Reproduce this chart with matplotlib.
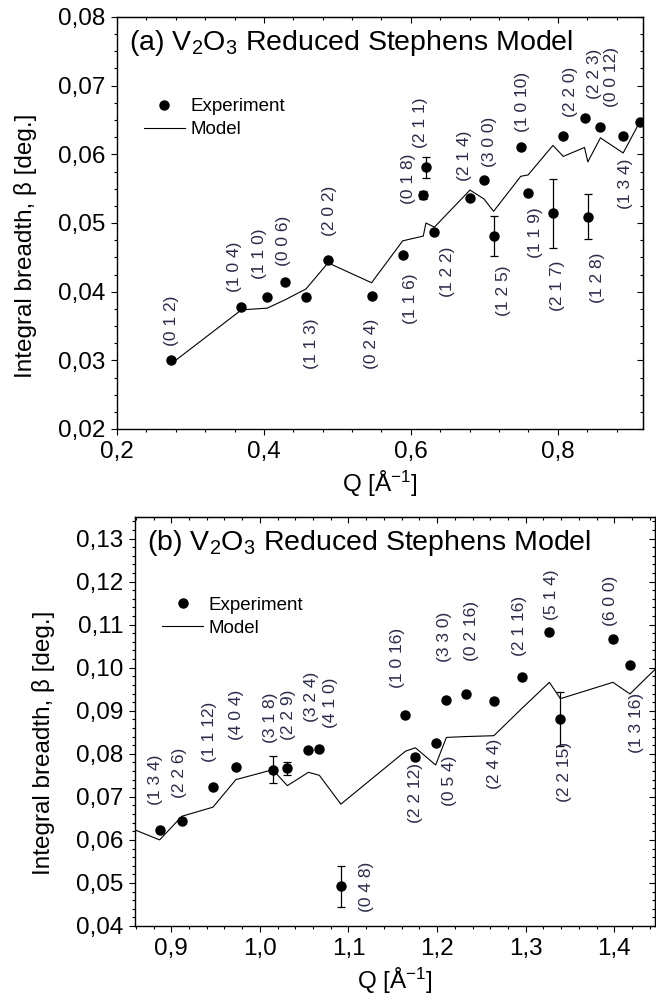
import matplotlib
matplotlib.use('Agg')
import matplotlib.pyplot as plt
from matplotlib.ticker import MultipleLocator, FuncFormatter
from matplotlib.lines import Line2D

plt.rcParams['font.family'] = ['Liberation Sans', 'DejaVu Sans']
plt.rcParams['mathtext.fontset'] = 'custom'
plt.rcParams['mathtext.rm'] = 'Liberation Sans'
plt.rcParams['mathtext.it'] = 'Liberation Sans:italic'
plt.rcParams['mathtext.bf'] = 'Liberation Sans:bold'

# ---- panel (a) data ----
q_a = [0.2737, 0.3694, 0.4044, 0.4286, 0.4573, 0.4873, 0.5465, 0.5889, 0.6169, 0.6205,
       0.6321, 0.6805, 0.6995, 0.7126, 0.7496, 0.7596, 0.7934, 0.8075, 0.8364, 0.8409,
       0.8580, 0.8890, 0.9120]
beta_a = [0.0300, 0.0377, 0.0392, 0.04135, 0.0392, 0.0446, 0.0393, 0.0454, 0.0541, 0.0581,
          0.0487, 0.0537, 0.0562, 0.0481, 0.0611, 0.0544, 0.0514, 0.0626, 0.0653, 0.0509,
          0.0640, 0.0626, 0.0647]
err_a = [0, 0, 0, 0, 0, 0, 0, 0, 0.0006, 0.0015,
         0, 0, 0, 0.0029, 0, 0, 0.0050, 0, 0, 0.0033,
         0, 0, 0]
labels_a = ['(0 1 2)', '(1 0 4)', '(1 1 0)', '(0 0 6)', '(1 1 3)', '(2 0 2)', '(0 2 4)', '(1 1 6)',
            '(0 1 8)', '(2 1 1)', '(1 2 2)', '(2 1 4)', '(3 0 0)', '(1 2 5)', '(1 0 10)', '(1 1 9)',
            '(2 1 7)', '(2 2 0)', '(2 2 3)', '(1 2 8)', '(0 0 12)', '(1 3 4)', '(2 2 6)']
qm_a = [0.2737, 0.3694, 0.4044, 0.4286, 0.4573, 0.4873, 0.5465, 0.5889, 0.6169, 0.6205,
        0.6321, 0.6805, 0.6995, 0.7126, 0.7496, 0.7596, 0.7934, 0.8075, 0.8364, 0.8409,
        0.8580, 0.8890, 0.9120]
model_a = [0.0295, 0.03735, 0.0376, 0.0388, 0.0404, 0.0442, 0.0413, 0.0474, 0.0481, 0.0500,
           0.0494, 0.0548, 0.0535, 0.0517, 0.0568, 0.0570, 0.0613, 0.0597, 0.0610, 0.0589,
           0.0624, 0.0602, 0.0648]

# ---- panel (b) data ----
q_b = [0.8868, 0.9120, 0.9470, 0.9729, 1.0145, 1.0310, 1.0548, 1.0671, 1.0914, 1.1643,
       1.1755, 1.1984, 1.2105, 1.2322, 1.2641, 1.2960, 1.3268, 1.3392, 1.3985, 1.4177]
beta_b = [0.0624, 0.0645, 0.0723, 0.0770, 0.0763, 0.0766, 0.0808, 0.0811, 0.0492, 0.0891,
          0.0792, 0.0826, 0.0924, 0.0938, 0.0922, 0.0978, 0.1084, 0.0880, 0.1066, 0.1007]
err_b = [0, 0, 0, 0, 0.0031, 0.0015, 0, 0, 0.0048, 0,
         0.0007, 0, 0, 0, 0, 0, 0, 0.0063, 0, 0]
labels_b = ['(1 3 4)', '(2 2 6)', '(1 1 12)', '(4 0 4)', '(3 1 8)', '(2 2 9)', '(3 2 4)', '(4 1 0)',
            '(0 4 8)', '(1 0 16)', '(2 2 12)', '(0 5 4)', '(3 3 0)', '(0 2 16)', '(2 4 4)',
            '(2 1 16)', '(5 1 4)', '(2 2 15)', '(6 0 0)', '(1 3 16)']
qm_b = [0.8580, 0.8868, 0.9120, 0.9470, 0.9729, 1.0145, 1.0310, 1.0548, 1.0671, 1.0914,
        1.1643, 1.1755, 1.1984, 1.2105, 1.2322, 1.2641, 1.2960, 1.3268, 1.3392, 1.3985,
        1.4177, 1.4465]
model_b = [0.0624, 0.0600, 0.0655, 0.0676, 0.0740, 0.0763, 0.0726, 0.0757, 0.0750, 0.0683,
           0.0806, 0.0814, 0.0774, 0.0838, 0.0840, 0.0842, 0.0906, 0.0966, 0.0928, 0.0966,
           0.0939, 0.0997]

# label placement (pixel offsets from the point), None = not shown
offs_a = [(0, 40), (-7, 41), (-8, 43), (-1, 42), (5, -47), (1, 49), (0, -47), (8, -44),
          (-15, 16), (-5, 45), (13, -40), (-5, 42), (6, 39), (10, -55), (2, 45), (7, -40),
          (5, -72), (7, 45), (10, 44), (10, -61), (11, 50), (2, -47), None]
offs_b = [(-4, 50), (-2, 48), (-3, 55), (1, 52), (-2, 52), (1, 54), (3, 53), (11, 46),
          (26, 0), (-8, 57), (0, -36), (14, -38), (-2, 64), (6, 63), (1, -63),
          (-3, 51), (2, 37), (4, -53), (-2, 38), (7, -58)]

LAB_COLOR = '#2b2b4a'
FS = 17.5


def comma(fmt):
    return FuncFormatter(lambda v, pos: fmt.format(v).replace('.', ','))


def style(ax, xmaj, xmin, ymaj, ymin, xfmt, yfmt):
    for sp in ax.spines.values():
        sp.set_linewidth(1.0)
    ax.xaxis.set_major_locator(MultipleLocator(xmaj))
    ax.xaxis.set_minor_locator(MultipleLocator(xmin))
    ax.yaxis.set_major_locator(MultipleLocator(ymaj))
    ax.yaxis.set_minor_locator(MultipleLocator(ymin))
    ax.xaxis.set_major_formatter(comma(xfmt))
    ax.yaxis.set_major_formatter(comma(yfmt))
    ax.tick_params(which='both', direction='out', width=0.8, labelsize=FS, pad=4)
    ax.tick_params(which='major', length=4.5)
    ax.tick_params(which='minor', length=2.3)
    top = ax.secondary_xaxis('top')
    top.xaxis.set_major_locator(MultipleLocator(xmaj))
    top.xaxis.set_minor_locator(MultipleLocator(xmin))
    top.tick_params(which='both', direction='in', width=0.8, labeltop=False)
    top.tick_params(which='major', length=4.5)
    top.tick_params(which='minor', length=2.3)
    right = ax.secondary_yaxis('right')
    right.yaxis.set_major_locator(MultipleLocator(ymaj))
    right.yaxis.set_minor_locator(MultipleLocator(ymin))
    right.tick_params(which='both', direction='in', width=0.8, labelright=False)
    right.tick_params(which='major', length=4.5)
    right.tick_params(which='minor', length=2.3)


def panel(ax, q, beta, err, labels, offs, qm, model, title, leg_anchor):
    ax.plot(qm, model, color='k', lw=0.8)
    ax.errorbar(q, beta, yerr=err, fmt='o', color='k', ms=6.5, capsize=2.6,
                elinewidth=0.9, capthick=0.9)
    for xi, yi, lab, off in zip(q, beta, labels, offs):
        if off is None:
            continue
        ax.annotate(lab, (xi, yi), xytext=off, textcoords='offset pixels',
                    rotation=90, ha='center', va='center', fontsize=12.5,
                    color=LAB_COLOR)
    ax.text(0.023, 0.937, title, transform=ax.transAxes, fontsize=20.5,
            ha='left', va='center')
    handles = [Line2D([], [], ls='none', marker='o', color='k', ms=6.5),
               Line2D([], [], color='k', lw=0.8)]
    ax.legend(handles, ['Experiment', 'Model'], loc='upper left',
              bbox_to_anchor=leg_anchor, frameon=False, fontsize=13.5,
              handlelength=2.2, handletextpad=0.3, labelspacing=0.31,
              borderpad=0, borderaxespad=0)
    ax.set_xlabel(r'Q [Å$^{-1}$]', fontsize=FS)
    ax.set_ylabel('Integral breadth, β [deg.]', fontsize=FS)


fig = plt.figure(figsize=(6.56, 10.07), dpi=100)

ax_a = fig.add_axes([117 / 656, 1 - 429 / 1007, 526 / 656, 412 / 1007])
panel(ax_a, q_a, beta_a, err_a, labels_a, offs_a, qm_a, model_a,
      r'(a) V$_2$O$_3$ Reduced Stephens Model', (0.051, 0.803))
ax_a.set_xlim(0.2, 0.916)
ax_a.set_ylim(0.02, 0.08)
style(ax_a, 0.2, 0.04, 0.01, 0.0025, '{:.1f}', '{:.2f}')
ax_a.yaxis.set_label_coords(-0.152, 0.444)

ax_b = fig.add_axes([135 / 656, 1 - 926 / 1007, 520 / 656, 409 / 1007])
panel(ax_b, q_b, beta_b, err_b, labels_b, offs_b, qm_b, model_b,
      r'(b) V$_2$O$_3$ Reduced Stephens Model', (0.052, 0.805))
ax_b.set_xlim(0.859, 1.446)
ax_b.set_ylim(0.04, 0.135)
style(ax_b, 0.1, 0.02, 0.01, 0.002, '{:.1f}', '{:.2f}')
ax_b.yaxis.set_label_coords(-0.154, 0.447)

fig.savefig('out.png', dpi=100)
